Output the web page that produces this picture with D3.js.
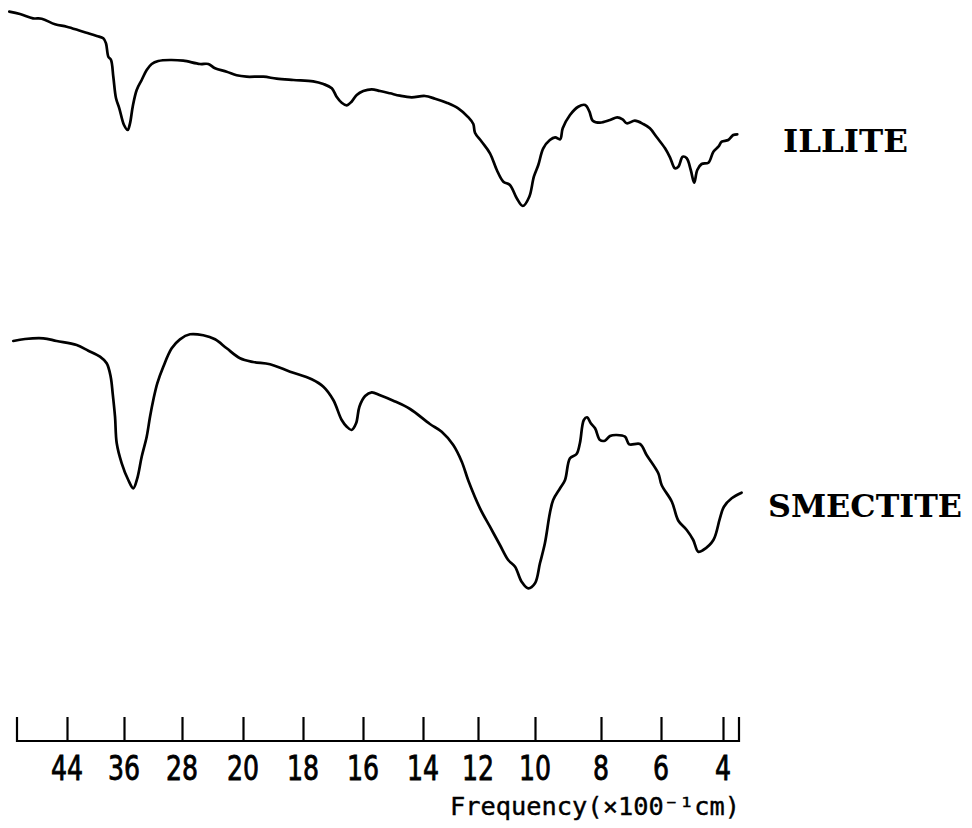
<!DOCTYPE html>
<html><head><meta charset="utf-8">
<script src="https://cdn.jsdelivr.net/npm/d3@7/dist/d3.min.js"></script>
<style>html,body{margin:0;padding:0;background:#fff}</style>
</head><body>
<svg id="chart" width="972" height="828"></svg>
<script>
// Frequency in units of 100 cm^-1 (axis ticks)
const tickValues = [44, 36, 28, 20, 18, 16, 14, 12, 10, 8, 6, 4];
const tickLabels = ["44","36","28","20","18","16","14","12","10","8","6","4"];
const seriesNames = ["ILLITE", "SMECTITE"];

// ILLITE spectrum: frequency (x100 cm^-1), transmittance (arbitrary, offset)
const illiteFreq = [52.10,50.60,48.77,47.55,45.68,44.04,42.18,41.01,39.83,38.91,38.53,38.20,37.82,37.50,37.12,36.66,36.00,35.49,35.17,34.80,34.25,33.56,32.87,32.18,31.27,29.66,27.83,25.64,24.55,23.67,22.14,20.83,19.88,19.32,18.88,18.32,17.66,17.32,17.04,16.88,16.71,16.54,16.38,16.21,15.99,15.71,15.43,15.10,14.77,14.38,13.93,13.56,13.14,12.72,12.35,12.17,12.11,11.87,11.58,11.34,11.11,10.88,10.64,10.43,10.20,10.04,9.90,9.75,9.55,9.39,9.24,9.16,8.94,8.69,8.48,8.35,8.25,8.03,7.70,7.46,7.28,7.14,6.87,6.59,6.37,6.14,5.87,5.71,5.55,5.44,5.30,5.17,5.04,4.93,4.83,4.69,4.47,4.31,4.15,4.04,3.83,3.67,3.54];
const illiteT = [68.83,68.60,68.17,68.13,67.57,67.33,66.93,66.67,66.40,66.17,65.67,64.33,64.00,62.33,60.17,59.17,57.50,57.00,57.67,59.33,61.00,62.00,63.00,63.60,63.90,64.00,63.93,63.60,63.60,63.17,62.83,62.47,62.33,62.33,62.13,62.00,61.87,61.60,61.17,60.33,59.73,59.47,59.83,60.50,60.90,61.07,60.90,60.67,60.43,60.27,60.40,60.13,59.73,59.17,58.27,57.60,56.73,55.83,54.67,53.00,51.83,51.50,50.17,49.40,50.33,52.33,53.50,55.17,56.00,56.27,56.07,57.17,58.50,59.33,59.50,58.83,57.93,57.73,58.00,58.27,58.07,57.67,57.93,57.60,57.17,56.27,55.17,54.27,53.17,53.33,54.33,54.17,53.00,51.73,53.00,53.60,53.73,54.83,55.33,55.83,56.00,56.50,56.57];

// SMECTITE spectrum
const smectiteFreq = [51.54,49.89,47.33,45.45,42.64,41.01,39.37,38.43,37.87,37.59,37.26,37.02,36.32,35.41,34.72,34.17,33.56,32.87,32.41,31.96,31.41,30.58,29.42,28.28,26.95,25.21,23.67,22.14,20.39,19.66,19.10,18.43,17.71,17.32,16.99,16.71,16.54,16.38,16.23,16.12,15.93,15.71,15.43,14.99,14.43,13.75,13.32,12.90,12.59,12.35,11.93,11.58,11.23,10.94,10.70,10.47,10.24,10.00,9.85,9.70,9.55,9.45,9.24,9.09,8.94,8.74,8.64,8.52,8.42,8.31,8.18,8.03,7.87,7.70,7.48,7.20,7.06,6.70,6.48,6.09,5.98,5.65,5.44,5.17,4.96,4.80,4.64,4.31,4.10,3.97,3.72,3.40];
const smectiteT = [35.90,36.10,36.17,35.90,35.50,34.93,34.33,33.67,32.33,30.67,28.33,25.67,23.67,22.00,21.17,22.17,24.33,26.33,28.33,30.00,31.67,33.33,35.17,36.07,36.57,36.47,36.07,35.17,34.17,33.80,33.57,32.83,32.07,31.33,30.00,28.00,27.33,27.00,27.67,29.33,30.40,30.77,30.47,29.93,29.10,27.60,26.83,25.50,23.83,21.93,19.17,17.33,15.50,14.00,13.33,11.83,11.17,11.67,13.67,15.67,18.67,20.00,21.17,22.00,24.17,24.60,25.67,28.00,28.27,27.67,27.17,26.00,25.93,26.40,26.50,26.33,25.57,25.60,24.50,22.67,21.50,19.83,17.93,17.00,16.00,14.83,15.00,16.00,18.17,19.33,20.17,20.73];

const svg = d3.select("#chart");

// piecewise x scale: ticks spaced as printed on the chart
const x = d3.scaleLinear()
  .domain(tickValues)
  .range([67,124,182,243,303,363,423,478,535,601,661,723]);
const y = d3.scaleLinear().domain([0, 70]).range([700, 0]);

const line = d3.line()
  .x(d => x(d[0])).y(d => y(d[1]))
  .curve(d3.curveCatmullRom.alpha(0.5));

const series = [
  d3.zip(illiteFreq, illiteT),
  d3.zip(smectiteFreq, smectiteT)
];

svg.selectAll("path.spec").data(series).join("path")
  .attr("class","spec")
  .attr("d", line)
  .attr("fill","none")
  .attr("stroke","#000")
  .attr("stroke-width",2.7)
  .attr("stroke-linejoin","round")
  .attr("stroke-linecap","round");

// series labels
const labelPos = [{x:783, y:152, w:125}, {x:768, y:517, w:194}];
svg.selectAll("text.name").data(seriesNames).join("text")
  .attr("class","name")
  .attr("x",(d,i)=>labelPos[i].x)
  .attr("y",(d,i)=>labelPos[i].y)
  .attr("textLength",(d,i)=>labelPos[i].w)
  .attr("lengthAdjust","spacingAndGlyphs")
  .style("font-family","'DejaVu Serif', 'Liberation Serif', serif")
  .style("font-weight","bold")
  .style("font-size","32px")
  .attr("fill","#000")
  .text(d=>d);

// axis
const axisY = 741, axisLeft = 17, axisRight = 739, tickLen = 24;
const ax = svg.append("g").attr("transform",`translate(0,${axisY})`);
ax.call(d3.axisTop(x).tickValues(tickValues).tickSizeInner(tickLen).tickSizeOuter(0).tickFormat(""));
ax.select(".domain").remove();
ax.selectAll(".tick line").attr("stroke","#000").attr("stroke-width",2.2);
ax.append("path")
  .attr("d",`M${axisLeft},${-tickLen}V0H${axisRight}V${-tickLen}`)
  .attr("fill","none").attr("stroke","#000").attr("stroke-width",2.2);

ax.selectAll("text.tl").data(tickValues).join("text")
  .attr("class","tl")
  .attr("x", d=>x(d))
  .attr("y", 39)
  .attr("text-anchor","middle")
  .attr("textLength",(d,i)=>tickLabels[i].length*16)
  .attr("lengthAdjust","spacingAndGlyphs")
  .style("font-family","'DejaVu Sans Condensed','DejaVu Sans',sans-serif")
  .style("font-size","34px")
  .attr("fill","#000")
  .attr("stroke","#000")
  .attr("stroke-width",0.8)
  .text((d,i)=>tickLabels[i]);

svg.append("text")
  .attr("x",450).attr("y",815)
  .attr("textLength",290)
  .attr("lengthAdjust","spacingAndGlyphs")
  .style("font-family","'DejaVu Sans Mono',monospace")
  .style("font-size","25px")
  .attr("fill","#000")
  .attr("stroke","#000")
  .attr("stroke-width",0.4)
  .text("Frequency(×100⁻¹cm)");
</script>
</body></html>
